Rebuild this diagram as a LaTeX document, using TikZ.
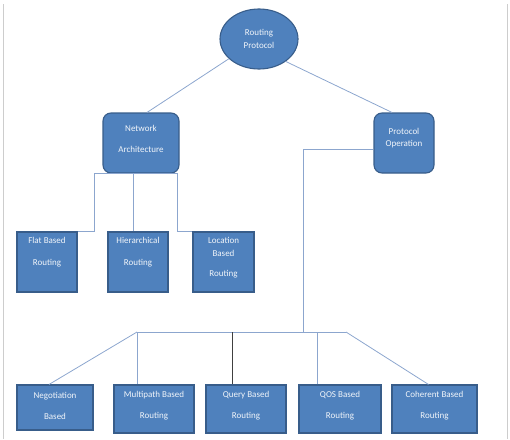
\documentclass[tikz,border=0pt]{standalone}
\usepackage{fontspec}
\setmainfont{Carlito}
\definecolor{boxBlue}{RGB}{79,129,189}
\definecolor{boxEdge}{RGB}{56,93,138}
\definecolor{linkBlue}{RGB}{140,166,206}
\definecolor{frameGray}{RGB}{205,205,205}
\usetikzlibrary{shapes.geometric,positioning,calc}

\begin{document}
\begin{tikzpicture}[
    x=1pt, y=-1pt,
    box/.style={rectangle, draw=boxEdge, fill=boxBlue, line width=1.1pt,
      minimum height=60pt, inner sep=0pt},
    roundbox/.style={box, rounded corners=8pt},
    boxtext/.style={text=white!92!boxBlue, font=\fontsize{9}{10.5}\selectfont,
      align=center, inner sep=0pt},
    link/.style={draw=linkBlue, line width=0.8pt}
  ]
    \useasboundingbox (0,0) rectangle (510,439);
    % page frame
    \draw[frameGray, line width=0.8pt] (3,4) -- (3,439);
    \draw[frameGray, line width=0.8pt] (507,4) -- (507,439);

    % Root
    \node[ellipse, draw=boxEdge, fill=boxBlue, line width=1.1pt,
      minimum width=78pt, minimum height=60pt] (root) at (259,39) {};
    \node[boxtext] (root-t) at (259,39) {Routing\\[2pt]Protocol};

    % Second level
    \node[roundbox, minimum width=76pt] (net) at (141,143) {};
    \node[boxtext] (net-t) at (141,138.5) {Network\\[10.5pt]Architecture};
    \node[roundbox, minimum width=60pt] (proto) at (404,143) {};
    \node[boxtext] (proto-t) at (404,138) {Protocol\\[1.5pt]Operation};

    \draw[link] (root) -- ([xshift=6pt]net.north);
    \draw[link] (root.-40) -- ([xshift=-12pt]proto.north);

    % Network architecture children
    \node[box, minimum width=60pt] (flat) at (47,262) {};
    \node[boxtext] (flat-t) at (47,252) {Flat Based\\[11.5pt]Routing};
    \node[box, minimum width=60pt] (hier) at (138,262) {};
    \node[boxtext] (hier-t) at (138,252) {Hierarchical\\[11.5pt]Routing};
    \node[box, minimum width=61pt] (loc) at (223.5,262) {};
    \node[boxtext] (loc-t) at (223.5,257.5) {Location\\[2.5pt]Based\\[9.5pt]Routing};

    \coordinate (netl) at ([xshift=-8pt]net.south west);
    \coordinate (netr) at ([xshift=-2pt]net.south east);
    \draw[link] (flat.north east) -| (netl) -- (netr) |- (loc.north west);
    \draw[link] ([xshift=-5pt]hier.north) -- ([xshift=-5pt]hier.north |- net.south);

    % Protocol operation children
    \node[box, minimum width=76pt, minimum height=45pt] (nego) at (55,407.5) {};
    \node[boxtext] (nego-t) at (55,405.5) {Negotiation\\[10.5pt]Based};
    \node[box, minimum width=80pt, minimum height=48pt] (multi) at (154,409) {};
    \node[boxtext] (multi-t) at (154,405.5) {Multipath Based\\[10.5pt]Routing};
    \node[box, minimum width=80pt, minimum height=48pt] (query) at (246,409) {};
    \node[boxtext] (query-t) at (246,405.5) {Query Based\\[10.5pt]Routing};
    \node[box, minimum width=82pt, minimum height=48pt] (qos) at (340,409) {};
    \node[boxtext] (qos-t) at (340,405.5) {QOS Based\\[10.5pt]Routing};
    \node[box, minimum width=85pt, minimum height=48pt] (coh) at (434.5,409) {};
    \node[boxtext] (coh-t) at (434.5,405.5) {Coherent Based\\[10.5pt]Routing};

    \coordinate (pbend) at (303,149);
    \coordinate (busl) at (137,332);
    \coordinate (busr) at (346,332);
    \draw[link] ([yshift=-6pt]proto.west) -- (pbend) -- (pbend |- busl);
    \draw[link] (busl) -- (busr);
    \draw[link] (busl) -- ([xshift=-6pt]nego.north);
    \draw[link] (busl) -- (busl |- multi.north);
    \draw[black!75, line width=0.8pt] ([xshift=-14pt]query.north) -- ([xshift=-14pt]query.north |- busl);
    \draw[link] ([xshift=-23pt]qos.north) -- ([xshift=-23pt]qos.north |- busl);
    \draw[link] (busr) -- ([xshift=-6pt]coh.north);
\end{tikzpicture}
\end{document}
